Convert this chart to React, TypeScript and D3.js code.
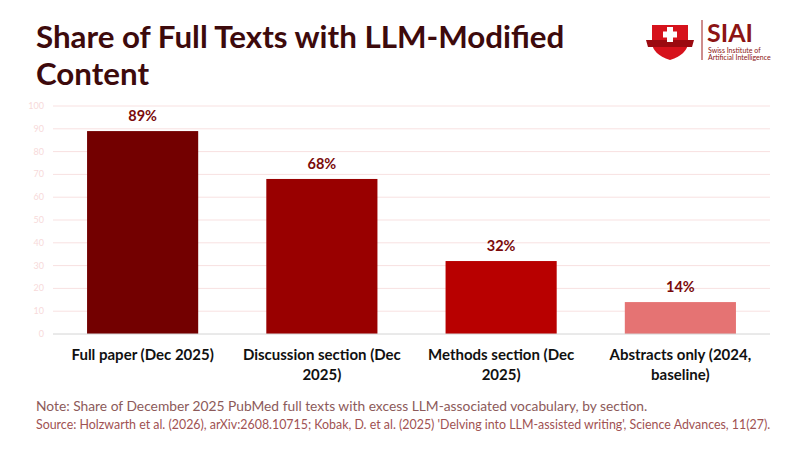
import React, { useEffect, useRef } from 'react';
import * as d3 from 'd3';

const categories = [
  'Full paper (Dec 2025)',
  'Discussion section (Dec 2025)',
  'Methods section (Dec 2025)',
  'Abstracts only (2024, baseline)',
];
const values = [89, 68, 32, 14];
const barColors = ['#730000', '#990000', '#b80000', '#e57373'];
const yTicks = [0, 10, 20, 30, 40, 50, 60, 70, 80, 90, 100];

const TITLE_LINES = ['Share of Full Texts with LLM-Modified', 'Content'];
const NOTE = 'Note: Share of December 2025 PubMed full texts with excess LLM-associated vocabulary, by section.';
const SOURCE =
  "Source: Holzwarth et al. (2026), arXiv:2608.10715; Kobak, D. et al. (2025) 'Delving into LLM-assisted writing', Science Advances, 11(27).";

const FONT = "'Source Sans Pro', Lato, 'Noto Sans', sans-serif";
const W = 800;
const H = 450;

// wraps a text node into tspans no wider than maxWidth
function wrap(sel: d3.Selection<SVGTextElement, string, any, any>, maxWidth: number, lineHeight: number) {
  sel.each(function (label) {
    const text = d3.select(this);
    const words = label.split(/\s+/);
    const x = text.attr('x');
    text.text(null);
    let line: string[] = [];
    let tspan = text.append('tspan').attr('x', x).attr('dy', 0);
    for (const w of words) {
      line.push(w);
      tspan.text(line.join(' '));
      if ((tspan.node() as SVGTSpanElement).getComputedTextLength() > maxWidth && line.length > 1) {
        line.pop();
        tspan.text(line.join(' '));
        line = [w];
        tspan = text.append('tspan').attr('x', x).attr('dy', lineHeight).text(w);
      }
    }
  });
}

const Chart: React.FC = () => {
  const svgRef = useRef<SVGSVGElement>(null);

  useEffect(() => {
    if (!svgRef.current) return;
    const svg = d3.select(svgRef.current);
    svg.selectAll('*').remove();

    const margin = { top: 106, right: 30, bottom: 116, left: 53 };
    const x = d3
      .scaleBand<string>()
      .domain(categories)
      .range([margin.left, W - margin.right])
      .paddingInner(0.38)
      .paddingOuter(0.19);
    const y = d3.scaleLinear().domain([0, 100]).range([H - margin.bottom, margin.top]);

    svg.append('rect').attr('width', W).attr('height', H).attr('fill', '#ffffff');

    // title
    svg
      .append('text')
      .attr('font-family', FONT)
      .attr('font-weight', 700)
      .attr('font-size', 31.3)
      .attr('fill', '#3d0a0c')
      .selectAll('tspan')
      .data(TITLE_LINES)
      .join('tspan')
      .attr('x', 36)
      .attr('y', (_, i) => 48 + i * 37)
      .text(d => d);

    // logo
    const logo = svg.append('g');
    logo
      .append('path')
      .attr('d', 'M652,25 L688,25 L688,42 Q688,54 670,60 Q652,54 652,42 Z')
      .attr('fill', '#d6121c');
    logo
      .append('path')
      .attr('d', 'M646,40 L694,40 L692,47 L648,47 Z')
      .attr('fill', '#9b0a10');
    logo.append('rect').attr('x', 667).attr('y', 27).attr('width', 6).attr('height', 15).attr('fill', '#fff');
    logo.append('rect').attr('x', 663).attr('y', 31.5).attr('width', 14).attr('height', 6).attr('fill', '#fff');
    logo.append('line').attr('x1', 702).attr('x2', 702).attr('y1', 20).attr('y2', 60).attr('stroke', '#9b1b1b').attr('stroke-width', 1);
    logo
      .append('text')
      .attr('x', 707)
      .attr('y', 42)
      .attr('font-family', FONT)
      .attr('font-weight', 700)
      .attr('font-size', 25)
      .attr('fill', '#8c1414')
      .text('SIAI');
    logo
      .append('text')
      .attr('font-family', FONT)
      .attr('font-size', 7)
      .attr('fill', '#8c1414')
      .selectAll('tspan')
      .data(['Swiss Institute of', 'Artificial Intelligence'])
      .join('tspan')
      .attr('x', 708)
      .attr('y', (_, i) => 52.5 + i * 7)
      .text(d => d);

    // grid + y ticks
    svg
      .append('g')
      .selectAll('line')
      .data(yTicks.filter(t => t > 0))
      .join('line')
      .attr('x1', margin.left)
      .attr('x2', W - margin.right)
      .attr('y1', d => y(d))
      .attr('y2', d => y(d))
      .attr('stroke', '#f8e1e1')
      .attr('stroke-width', 1);

    svg
      .append('g')
      .selectAll('text')
      .data(yTicks)
      .join('text')
      .attr('x', 44)
      .attr('y', d => y(d) + 3)
      .attr('text-anchor', 'end')
      .attr('font-family', FONT)
      .attr('font-size', 9)
      .attr('fill', '#f7dada')
      .text(d => d);

    // bars
    svg
      .append('g')
      .selectAll('rect')
      .data(values)
      .join('rect')
      .attr('x', (_, i) => x(categories[i])!)
      .attr('width', x.bandwidth())
      .attr('y', d => y(d))
      .attr('height', d => y(0) - y(d))
      .attr('fill', (_, i) => barColors[i]);

    // baseline
    svg
      .append('line')
      .attr('x1', margin.left)
      .attr('x2', W - margin.right)
      .attr('y1', y(0))
      .attr('y2', y(0))
      .attr('stroke', '#d4d4d4')
      .attr('stroke-width', 1);

    // value labels
    svg
      .append('g')
      .selectAll('text')
      .data(values)
      .join('text')
      .attr('x', (_, i) => x(categories[i])! + x.bandwidth() / 2)
      .attr('y', d => y(d) - 10)
      .attr('text-anchor', 'middle')
      .attr('font-family', FONT)
      .attr('font-weight', 700)
      .attr('font-size', 14.5)
      .attr('fill', '#7a0a0a')
      .text(d => `${d}%`);

    // category labels
    svg
      .append('g')
      .selectAll<SVGTextElement, string>('text')
      .data(categories)
      .join('text')
      .attr('x', d => x(d)! + x.bandwidth() / 2)
      .attr('y', 360)
      .attr('text-anchor', 'middle')
      .attr('font-family', FONT)
      .attr('font-weight', 700)
      .attr('font-size', 15)
      .attr('fill', '#111111')
      .text(d => d)
      .call(wrap, 172, 20);

    // footer
    svg
      .append('text')
      .attr('x', 36)
      .attr('y', 411)
      .attr('font-family', FONT)
      .attr('font-size', 13.8)
      .attr('fill', '#8c5a5a')
      .text(NOTE);
    svg
      .append('text')
      .attr('x', 36)
      .attr('y', 429)
      .attr('font-family', FONT)
      .attr('font-size', 12.4)
      .attr('fill', '#a05252')
      .text(SOURCE);
  }, []);

  return <svg ref={svgRef} width={W} height={H} style={{ display: 'block' }} />;
};

export default function App() {
  return (
    <div style={{ margin: -8 }}>
      <Chart />
    </div>
  );
}
